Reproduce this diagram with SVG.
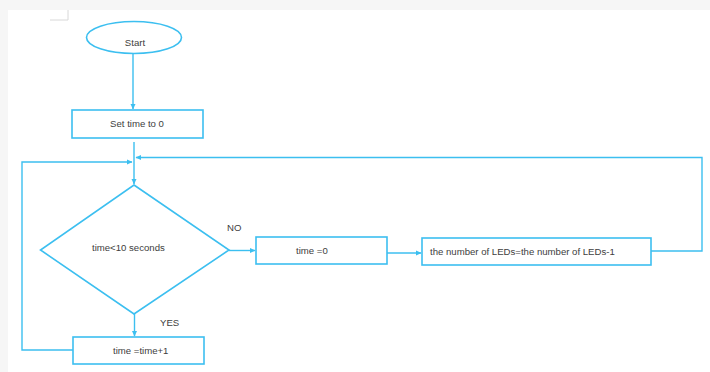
<svg xmlns="http://www.w3.org/2000/svg" width="710" height="372" viewBox="0 0 710 372">
<defs>
<marker id="ah" markerWidth="6" markerHeight="6" refX="5" refY="3" orient="auto" markerUnits="userSpaceOnUse">
<path d="M0,0.5 L5.5,3 L0,5.5 Z" fill="#3cbff0"/>
</marker>
</defs>
<style>
.s{fill:#fff;stroke:#3cbff0;stroke-width:1.6}
.c{fill:none;stroke:#3cbff0;stroke-width:1.4}
.t{font-family:"Liberation Sans",Arial,sans-serif;font-size:9.6px;fill:#404040}
</style>
<rect x="0" y="0" width="710" height="372" fill="#f6f6f6"/>
<rect x="8" y="10" width="702" height="362" fill="#ffffff"/>
<path d="M50,20 H68 V10" fill="none" stroke="#d8d8d8" stroke-width="1"/>
<g id="connectors">
<line class="c" x1="133" y1="54" x2="133" y2="109" marker-end="url(#ah)"/>
<line class="c" x1="134" y1="142" x2="134" y2="184" marker-end="url(#ah)"/>
<polyline class="c" points="73,350 22,350 22,162 132,162" marker-end="url(#ah)"/>
<polyline class="c" points="651,251 702,251 702,157.5 136,157.5" marker-end="url(#ah)"/>
<line class="c" x1="229" y1="250.5" x2="255" y2="250.5" marker-end="url(#ah)"/>
<line class="c" x1="387" y1="253" x2="421" y2="253" marker-end="url(#ah)"/>
<line class="c" x1="134.5" y1="314" x2="134.5" y2="336" marker-end="url(#ah)"/>
</g>
<g id="start">
<ellipse class="s" cx="134" cy="37.5" rx="47.5" ry="16"/>
<text class="t" x="135" y="45.5" text-anchor="middle">Start</text>
</g>
<g id="set-time">
<rect class="s" x="72" y="110" width="131" height="28"/>
<text class="t" x="137" y="126.5" text-anchor="middle">Set time to 0</text>
</g>
<g id="decision">
<polygon class="s" points="134,185 229,250 134,314 40.5,250"/>
<text class="t" x="92" y="250.5">time&lt;10 seconds</text>
</g>
<text class="t" x="227" y="231">NO</text>
<text class="t" x="160" y="326">YES</text>
<g id="time-zero">
<rect class="s" x="256" y="237" width="131" height="27"/>
<text class="t" x="296" y="253.5">time =0</text>
</g>
<g id="leds">
<rect class="s" x="422" y="238" width="229" height="27"/>
<text class="t" x="430" y="254.5">the number of LEDs=the number of LEDs-1</text>
</g>
<g id="time-inc">
<rect class="s" x="73" y="337" width="131" height="27"/>
<text class="t" x="113" y="353.5">time =time+1</text>
</g>
</svg>
